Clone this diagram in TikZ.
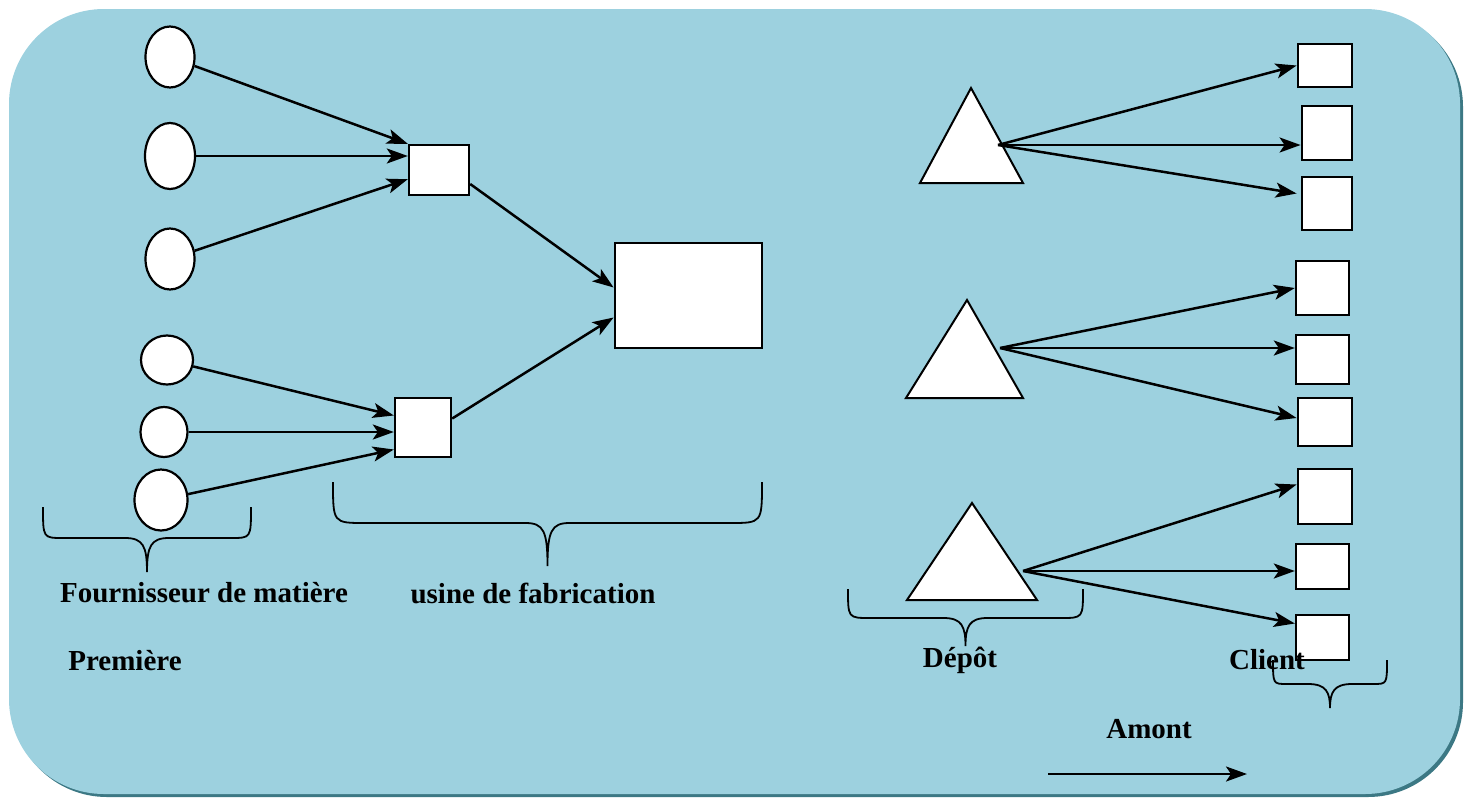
\documentclass[tikz,border=0pt]{standalone}
\usepackage{fontspec}
\setmainfont{Liberation Serif}
\usetikzlibrary{shapes.geometric,arrows.meta,calc}
\definecolor{bgblue}{HTML}{9DD1DF}
\definecolor{bgshadow}{HTML}{3C7884}
\newcommand\mybrc[6]{% xL xR y0 y1 y2 r
  \pgfmathsetmacro\bxm{(#1+#2)/2}
  \draw[bracestyle] (#1,#3) .. controls (#1,#4) .. ({#1+#6},#4) -- ({\bxm-22},#4)
    .. controls ({\bxm-4},#4) and (\bxm,{#4+8}) .. (\bxm,#5)
    .. controls (\bxm,{#4+8}) and ({\bxm+4},#4) .. ({\bxm+22},#4) -- ({#2-#6},#4)
    .. controls (#2,#4) .. (#2,#3);}
\begin{document}
\begin{tikzpicture}[x=1pt,y=-1pt,
  ell/.style={draw,line width=2.2pt,fill=white,ellipse,inner sep=0pt},
  box/.style={draw,line width=2.4pt,fill=white,rectangle,inner sep=0pt},
  tri/.style={draw,line width=2pt,fill=white,line join=miter},
  arr/.style={line width=2.5pt,-{Stealth[length=21pt,width=15pt,inset=5pt]}},
  bracestyle/.style={line width=1.8pt},
  lbl/.style={font=\bfseries\fontsize{29}{34}\selectfont,inner sep=0pt}]
\path[use as bounding box] (0,0) rectangle (1466,798);
% background
\fill[bgshadow] (12,12) [rounded corners=95pt] rectangle (1463,797);
\fill[bgblue] (9,9) [rounded corners=95pt] rectangle (1460,794);
% supplier ellipses
\node[ell,minimum width=49pt,minimum height=61pt] (E1) at (170,57) {};
\node[ell,minimum width=50pt,minimum height=66pt] (E2) at (170,156) {};
\node[ell,minimum width=49pt,minimum height=61pt] (E3) at (170,259) {};
\node[ell,minimum width=52pt,minimum height=49pt] (E4) at (167,360) {};
\node[ell,minimum width=47pt,minimum height=50pt] (E5) at (164,432) {};
\node[ell,minimum width=53pt,minimum height=61pt] (E6) at (161,500) {};
% factories
\node[box,minimum width=60pt,minimum height=50pt] (S1) at (439,170) {};
\node[box,minimum width=56pt,minimum height=59pt] (S2) at (423,427.5) {};
\node[box,line width=2.8pt,minimum width=147pt,minimum height=105pt] (B) at (688.5,295.5) {};
% arrows suppliers -> factories
\draw[arr] (E1) -- (S1.north west);
\draw[arr] (E2) -- (S1.west |- E2);
\draw[arr] (E3) -- ([yshift=17pt]S1.south west);
\draw[arr] (E4) -- ([yshift=12pt]S2.west);
\draw[arr] (E5) -- (S2.west |- E5);
\draw[arr] (E6) -- ([yshift=-22pt]S2.west);
\draw[arr] ([yshift=-14pt]S1.east) -- ([yshift=8pt]B.west);
\draw[arr] ([yshift=9pt]S2.east) -- ([yshift=-22pt]B.west);
% depots
\draw[tri] (920,183) -- (971,88) -- (1023,183) -- cycle;
\draw[tri] (906,398) -- (967,300) -- (1023,398) -- cycle;
\draw[tri] (907,600) -- (972,503) -- (1037,600) -- cycle;
\coordinate (D1) at (998,145);
\coordinate (D2) at (1000,348);
\coordinate (D3) at (1023,571);
% clients
\node[box,line width=2.8pt,minimum width=54pt,minimum height=43pt] (C1) at (1325,65.5) {};
\node[box,line width=2.8pt,minimum width=50pt,minimum height=54pt] (C2) at (1327,133) {};
\node[box,line width=2.8pt,minimum width=50pt,minimum height=53pt] (C3) at (1327,203.5) {};
\node[box,minimum width=53pt,minimum height=54pt] (C4) at (1322.5,288) {};
\node[box,minimum width=53pt,minimum height=49pt] (C5) at (1322.5,359.5) {};
\node[box,line width=2.8pt,minimum width=54pt,minimum height=48pt] (C6) at (1325,422) {};
\node[box,line width=2.8pt,minimum width=54pt,minimum height=55pt] (C7) at (1325,496.5) {};
\node[box,minimum width=53pt,minimum height=45pt] (C8) at (1322.5,566.5) {};
\node[box,minimum width=53pt,minimum height=45pt] (C9) at (1322.5,637.5) {};
\draw[arr] (D1) -- (C1.west);
\draw[arr] (D1) -- ([yshift=-12pt]C2.west);
\draw[arr] (D1) -- ([yshift=10pt,xshift=-4pt]C3.west);
\draw[arr] (D2) -- (C4.west);
\draw[arr] (D2) -- (C5.west |- D2);
\draw[arr] (D2) -- ([yshift=4pt]C6.west);
\draw[arr] (D3) -- ([yshift=12pt]C7.west);
\draw[arr] (D3) -- (C8.west |- D3);
\draw[arr] (D3) -- ([yshift=14pt]C9.west);
% braces
\mybrc{43}{251}{507}{538}{572}{20}
\mybrc{333}{762}{482}{523}{566}{32}
\mybrc{848}{1083}{589}{618}{646}{22}
\mybrc{1273}{1387}{660}{684}{708}{14}
% labels
\node[lbl] (L1) at (204,593) {Fournisseur de matière};
\node[lbl] (L2) at (125,661) {Première};
\node[lbl] (L3) at (533,593) {usine de fabrication};
\node[lbl] (L4) at (960,660) {Dépôt};
\node[lbl] (L5) at (1267,660) {Client};
\node[lbl] (L6) at (1149,729) {Amont};
\coordinate (A1) at (1048,774);
\coordinate (A2) at (1247,774);
\draw[line width=2.6pt,-{Stealth[length=21pt,width=15pt,inset=5pt]}] (A1) -- (A2);
\end{tikzpicture}
\end{document}
